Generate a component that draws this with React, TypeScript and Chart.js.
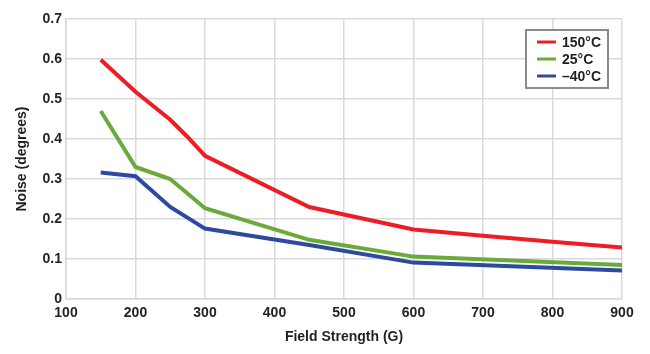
import React, { useEffect, useRef } from "react";
import { Chart, registerables } from "chart.js";

Chart.register(...registerables);

const fieldStrength = {
  hot: [150, 200, 250, 275, 300, 450, 600, 700, 800, 900],
  room: [150, 200, 250, 300, 450, 600, 900],
  cold: [150, 200, 250, 300, 450, 600, 900],
};
const noise150C = [0.598, 0.518, 0.448, 0.405, 0.358, 0.23, 0.174, 0.158, 0.143, 0.129];
const noise25C = [0.47, 0.33, 0.3, 0.227, 0.148, 0.106, 0.085];
const noiseMinus40C = [0.316, 0.307, 0.23, 0.176, 0.135, 0.091, 0.071];
const seriesLabels = ["150°C", "25°C", "–40°C"];
const seriesColors = ["#ee1c25", "#6aaa3a", "#2e4a9e"];
const xTicks = { min: 100, max: 900, step: 100 };
const yTicks = { min: 0, max: 0.7, step: 0.1 };

const FONT = "'Liberation Sans', Arial, sans-serif";

const boxLegend = {
  id: "boxLegend",
  afterDraw(chart: any) {
    const ctx = chart.ctx;
    const x = 526, y = 30, w = 82, h = 58;
    ctx.save();
    ctx.fillStyle = "#ffffff";
    ctx.fillRect(x, y, w, h);
    ctx.strokeStyle = "#8a8a8a";
    ctx.lineWidth = 2;
    ctx.strokeRect(x, y, w, h);
    ctx.font = `bold 14px ${FONT}`;
    ctx.textBaseline = "middle";
    ctx.textAlign = "left";
    chart.data.datasets.forEach((ds: any, i: number) => {
      const cy = y + 12 + i * 17;
      ctx.strokeStyle = ds.borderColor;
      ctx.lineWidth = 3;
      ctx.beginPath();
      ctx.moveTo(x + 11, cy);
      ctx.lineTo(x + 30, cy);
      ctx.stroke();
      ctx.fillStyle = "#231f20";
      ctx.fillText(ds.label, x + 36, cy + 1);
    });
    ctx.restore();
  },
};

export default function App() {
  const ref = useRef<HTMLCanvasElement | null>(null);
  useEffect(() => {
    document.body.style.margin = "0";
    const mk = (xs: number[], ys: number[]) => xs.map((x, i) => ({ x, y: ys[i] }));
    const chart = new Chart(ref.current!, {
      type: "line",
      data: {
        datasets: [
          { label: seriesLabels[0], data: mk(fieldStrength.hot, noise150C), borderColor: seriesColors[0] },
          { label: seriesLabels[1], data: mk(fieldStrength.room, noise25C), borderColor: seriesColors[1] },
          { label: seriesLabels[2], data: mk(fieldStrength.cold, noiseMinus40C), borderColor: seriesColors[2] },
        ].map((d) => ({ ...d, borderWidth: 4, pointRadius: 0, tension: 0, fill: false, borderJoinStyle: "miter" as const })),
      },
      options: {
        animation: false,
        responsive: false,
        layout: { padding: { left: 0, right: 28, top: 19, bottom: 0 } },
        plugins: { legend: { display: false }, tooltip: { enabled: false } },
        scales: {
          x: {
            type: "linear",
            min: xTicks.min,
            max: xTicks.max,
            ticks: { stepSize: xTicks.step, color: "#231f20", font: { family: FONT, size: 14, weight: "bold" }, padding: 6, maxRotation: 0 },
            grid: { color: "#d9d9d9", lineWidth: 1.5, drawTicks: false },
            border: { color: "#d9d9d9", width: 1.5 },
            title: { display: true, text: "Field Strength (G)", color: "#231f20", font: { family: FONT, size: 14, weight: "bold" }, padding: { top: 6, bottom: 8 } },
            afterFit: (s: any) => { s.height = 55; },
          },
          y: {
            min: yTicks.min,
            max: yTicks.max,
            ticks: { stepSize: yTicks.step, color: "#231f20", font: { family: FONT, size: 14, weight: "bold" }, padding: 4, callback: (v: any) => (v === 0 ? "0" : Number(v).toFixed(1)) },
            grid: { color: "#d9d9d9", lineWidth: 1.5, drawTicks: false },
            border: { color: "#d9d9d9", width: 1.5 },
            title: { display: true, text: "Noise (degrees)", color: "#231f20", font: { family: FONT, size: 14, weight: "bold" }, padding: { top: 14, bottom: 6 } },
            afterFit: (s: any) => { s.width = 66; },
          },
        },
      },
      plugins: [boxLegend],
    });
    return () => chart.destroy();
  }, []);
  return (
    <div style={{ position: "absolute", left: 0, top: 0, width: 650, height: 354, background: "#fff" }}>
      <canvas ref={ref} width={650} height={354} />
    </div>
  );
}
